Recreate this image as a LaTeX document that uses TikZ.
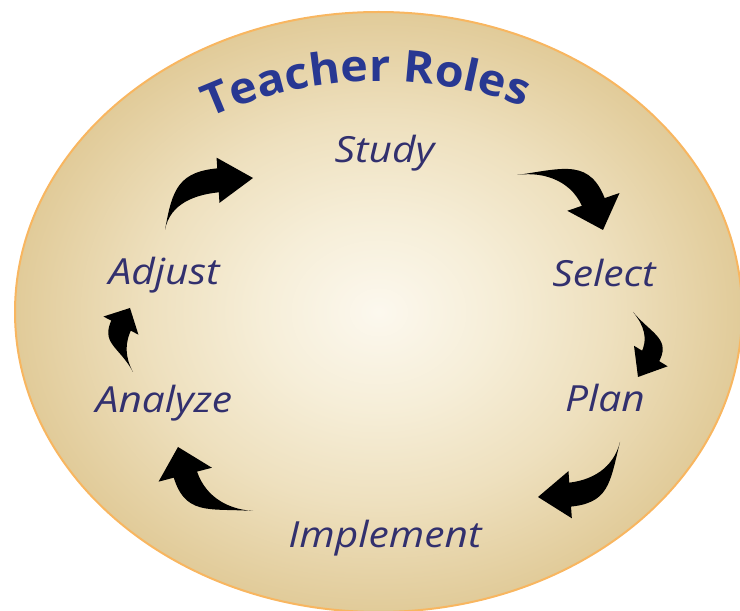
\documentclass[tikz,border=0pt]{standalone}
\usepackage{fontspec}
\usepackage{tikz}
\usetikzlibrary{calc, decorations.text}

\newfontfamily\rolefont[FakeStretch=1.13]{Open Sans}
\newfontfamily\titlefont[FakeStretch=1.06]{Open Sans}

\definecolor{rimorange}{RGB}{248,182,96}
\definecolor{discedge}{RGB}{225,203,153}
\definecolor{discmid}{RGB}{238,224,190}
\definecolor{disclight}{RGB}{246,238,216}
\definecolor{disccentre}{RGB}{252,248,238}
\definecolor{titleblue}{RGB}{40,56,146}
\definecolor{rolenavy}{RGB}{50,48,110}

\pgfdeclareradialshading{discshade}{\pgfpoint{0bp}{0bp}}{%
    color(0bp)=(disccentre); color(8bp)=(disclight); color(16bp)=(discmid);
    color(25bp)=(discedge); color(50bp)=(discedge)}

%% tapered curved arrow: tail, head base, tip, out, in, body half width, head half width
\newcommand{\taperarrow}[7]{%
    \fill[arrowfill] (#1) to[out=#4, in=#5, looseness=1.3] ($(#2)!#6!90:(#3)$)
        -- ($(#2)!#6!-90:(#3)$) to[out=#5, in=#4] (#1);
    \fill[arrowfill] ($(#2)!#7!100:(#3)$) -- (#3) -- ($(#2)!#7!-100:(#3)$) -- cycle;
}

\begin{document}
\begin{tikzpicture}[
    x=1pt, y=1pt,
    %% text styles
    role/.style={
        font={\rolefont\itshape\fontsize{36}{40}\selectfont},
        text=rolenavy, anchor=base, inner sep=0pt
    },
    %% arrow styles
    arrowfill/.style={fill=black}
]

    \useasboundingbox (0,0) rectangle (740,611);
    \clip (0,0) rectangle (740,611);

    %% --- disc -------------------------------------------------
    \coordinate (centre) at (378.5,299);
    \shade[shading=discshade] (centre) ellipse [x radius=363.5, y radius=300];
    \draw[rimorange, line width=2pt] (centre) ellipse [x radius=363.5, y radius=300];

    %% --- title along the rim ----------------------------------
    \coordinate (title-arc) at (380,115);
    \path[decorate, decoration={text along path,
            text={|\titlefont\bfseries\fontsize{44}{44}\selectfont|Teacher Roles},
            text align=center, text color=titleblue}]
        (title-arc) ++(116:415) arc[start angle=116, end angle=68, radius=415];

    %% --- roles ------------------------------------------------
    \node[role] (study)     at (384.5,448) {Study};
    \node[role] (select)    at (604,324)   {Select};
    \node[role] (plan)      at (605,199)   {Plan};
    \node[role] (implement) at (385,63)    {Implement};
    \node[role] (analyze)   at (164,198)   {Analyze};
    \node[role] (adjust)    at (164,326)   {Adjust};

    %% --- arrow end points -------------------------------------
    \coordinate (toSelect-tail) at (517,436);
    \coordinate (toSelect-base) at (595,404.5);
    \coordinate (toSelect-tip)  at (603,381);

    \coordinate (toPlan-tail) at (633,299);
    \coordinate (toPlan-base) at (649,252);
    \coordinate (toPlan-tip)  at (638,234);

    \coordinate (toImplement-tail) at (620,169);
    \coordinate (toImplement-base) at (566,116);
    \coordinate (toImplement-tip)  at (538,114);

    \coordinate (toAnalyze-tail) at (253,100);
    \coordinate (toAnalyze-base) at (184,141);
    \coordinate (toAnalyze-tip)  at (178,164);

    \coordinate (toAdjust-tail) at (133,239);
    \coordinate (toAdjust-base) at (122.5,288.5);
    \coordinate (toAdjust-tip)  at (130,303);

    \coordinate (toStudy-tail) at (165,381);
    \coordinate (toStudy-base) at (222,431);
    \coordinate (toStudy-tip)  at (253,433);

    %% --- arrows -----------------------------------------------
    \taperarrow{toSelect-tail}{toSelect-base}{toSelect-tip}{8}{109}{12pt}{28pt}
    \taperarrow{toPlan-tail}{toPlan-base}{toPlan-tip}{-50}{59}{10pt}{20pt}
    \taperarrow{toImplement-tail}{toImplement-base}{toImplement-tip}{-104}{4}{12pt}{24pt}
    \taperarrow{toAnalyze-tail}{toAnalyze-base}{toAnalyze-tip}{176}{-75}{12pt}{28pt}
    \taperarrow{toAdjust-tail}{toAdjust-base}{toAdjust-tip}{118}{-117}{11pt}{20pt}
    \taperarrow{toStudy-tail}{toStudy-base}{toStudy-tip}{80}{184}{12pt}{23pt}

\end{tikzpicture}
\end{document}
